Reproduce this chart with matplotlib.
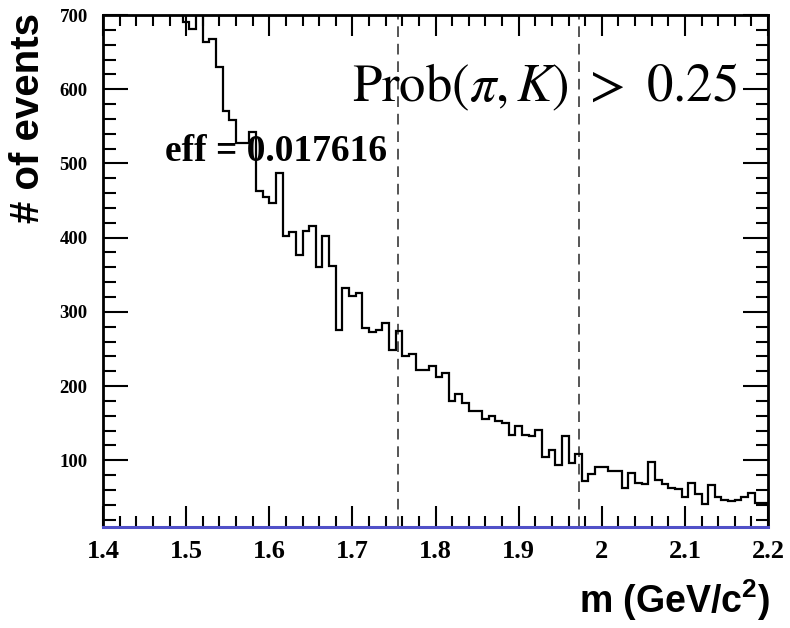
import numpy as np
import matplotlib
matplotlib.use("Agg")
from matplotlib import pyplot as plt
from matplotlib.ticker import MultipleLocator

# histogram: 100 bins from 1.4 to 2.2 GeV/c^2
m_lo, m_hi, n_bins = 1.4, 2.2, 100
counts = [
    980, 950, 930, 900, 880, 850, 820, 800, 770, 750, 730, 712,
    690, 681, 712, 663, 667, 630, 571, 558, 528, 528, 543, 463,
    455, 447, 487, 402, 408, 376, 409, 415, 360, 402, 362, 275,
    332, 322, 325, 278, 273, 275, 285, 248, 274, 241, 243, 222,
    222, 227, 212, 218, 180, 189, 177, 167, 167, 155, 159, 153,
    150, 134, 146, 134, 132, 141, 105, 114, 93, 132, 96, 108,
    72, 82, 91, 91, 86, 86, 63, 83, 69, 68, 97, 74,
    68, 62, 61, 50, 69, 55, 41, 66, 51, 46, 45, 46,
    51, 56, 42, 42,
]
window = [1.755, 1.973]   # dashed mass window
y_min, y_max = 10, 700
eff_text = "eff = 0.017616"
cut_text = r"$\mathrm{Prob}(\pi,K)\ >\ 0.25$"

serif = 'Liberation Serif'
sans = 'Liberation Sans'
# custom math font only used for the x-axis title superscript
plt.rcParams['mathtext.fontset'] = 'stix'
plt.rcParams['mathtext.rm'] = 'Liberation Sans:bold'
plt.rcParams['mathtext.it'] = 'Liberation Sans:bold'
plt.rcParams['mathtext.bf'] = 'Liberation Sans:bold'

fig = plt.figure(figsize=(7.9, 6.28), dpi=100)
ax = fig.add_axes([0.1304, 0.1608, 0.8418, 0.8153])

edges = np.linspace(m_lo, m_hi, n_bins + 1)
ax.stairs(counts, edges, baseline=None, color='black', lw=1.6, zorder=3)

# mass window
for xv in window:
    ax.axvline(xv, color='#555555', lw=1.4, ls=(0, (5.5, 3.5)), zorder=2)

# fit/background line sitting on the bottom
ax.axhline(y_min, color='#5050c8', lw=2.2, zorder=4, clip_on=False)

ax.set_xlim(m_lo, m_hi)
ax.set_ylim(y_min, y_max)

ax.xaxis.set_major_locator(MultipleLocator(0.1))
ax.xaxis.set_minor_locator(MultipleLocator(0.02))
ax.yaxis.set_major_locator(MultipleLocator(100))
ax.yaxis.set_minor_locator(MultipleLocator(20))
ax.xaxis.set_major_formatter(plt.FuncFormatter(lambda v, p: "%g" % round(v, 2)))
ax.yaxis.set_major_formatter(plt.FuncFormatter(lambda v, p: "%d" % v))

ax.tick_params(axis='x', which='both', direction='in', top=True, width=1.5,
               pad=9)
ax.tick_params(axis='x', which='major', length=15)
ax.tick_params(axis='x', which='minor', length=8)
ax.tick_params(axis='y', which='both', direction='in', right=True, width=1.5,
               pad=11)
ax.tick_params(axis='y', which='major', length=18)
ax.tick_params(axis='y', which='minor', length=9)
for lab in ax.get_xticklabels():
    lab.set_fontfamily(serif)
    lab.set_fontweight('bold')
    lab.set_fontsize(19)
for lab in ax.get_yticklabels():
    lab.set_fontfamily(serif)
    lab.set_fontweight('bold')
    lab.set_fontsize(13.5)
for sp in ax.spines.values():
    sp.set_linewidth(2)

ax.text(1.475, 503, eff_text, family=serif, fontweight='bold', fontsize=27,
        va='baseline', ha='left', zorder=5)
ax.text(1.699, 584, cut_text, fontsize=38, va='baseline', ha='left', zorder=5,
        math_fontfamily='stix')

fig.text(0.975, 0.045, r"m (GeV/c$^{2}$)", family=sans, fontweight='bold',
         fontsize=27, ha='right', va='center', math_fontfamily='custom')
fig.text(0.036, 0.98, "# of events", family=sans, fontweight='bold',
         fontsize=29, rotation=90, ha='center', va='top')

fig.savefig('out.png', dpi=100)
